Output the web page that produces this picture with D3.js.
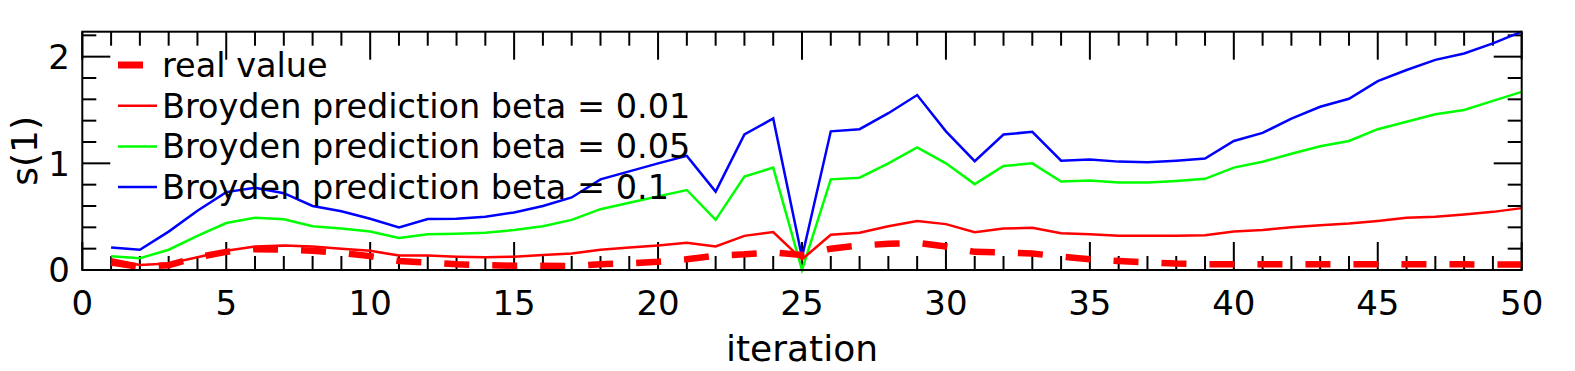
<!DOCTYPE html>
<html>
<head>
<meta charset="utf-8">
<script src="https://cdn.jsdelivr.net/npm/d3@7"></script>
<style>
	body { margin: 0; background: #fff; }
	svg { display: block; font-family: "DejaVu Sans", sans-serif; }
</style>
</head>
<body>
<svg id="plot" width="1575" height="371"></svg>
<script>

// iteration numbers on the x axis
const iterations = d3.range(1, 51);

const real_value = [0.07, 0.03, 0.045, 0.12, 0.17, 0.195, 0.19, 0.18, 0.16, 0.13,
	0.085, 0.07, 0.053, 0.045, 0.04, 0.04, 0.038, 0.055, 0.063, 0.078,
	0.10, 0.135, 0.147, 0.165, 0.14, 0.20, 0.23, 0.245, 0.255, 0.22,
	0.17, 0.165, 0.155, 0.125, 0.10, 0.085, 0.072, 0.06, 0.055, 0.055,
	0.055, 0.055, 0.055, 0.055, 0.055, 0.055, 0.055, 0.053, 0.052, 0.052];

const beta_001 = [0.10, 0.047, 0.06, 0.12, 0.18, 0.22, 0.23, 0.22, 0.20, 0.18,
	0.135, 0.135, 0.125, 0.12, 0.125, 0.14, 0.155, 0.19, 0.21, 0.23,
	0.255, 0.22, 0.32, 0.355, 0.10, 0.33, 0.35, 0.41, 0.46, 0.43,
	0.355, 0.39, 0.395, 0.345, 0.335, 0.32, 0.32, 0.32, 0.325, 0.36,
	0.375, 0.40, 0.42, 0.435, 0.46, 0.49, 0.50, 0.52, 0.545, 0.58];

const beta_005 = [0.13, 0.11, 0.19, 0.32, 0.44, 0.49, 0.475, 0.41, 0.39, 0.36,
	0.30, 0.335, 0.34, 0.35, 0.375, 0.41, 0.47, 0.57, 0.63, 0.69,
	0.75, 0.47, 0.875, 0.96, 0.0, 0.85, 0.865, 1.0, 1.15, 1.0,
	0.805, 0.975, 1.0, 0.83, 0.84, 0.82, 0.82, 0.835, 0.855, 0.96,
	1.015, 1.09, 1.16, 1.21, 1.32, 1.39, 1.46, 1.50, 1.585, 1.67];

const beta_01 = [0.21, 0.19, 0.36, 0.555, 0.73, 0.77, 0.72, 0.60, 0.55, 0.48,
	0.40, 0.477, 0.48, 0.50, 0.54, 0.60, 0.68, 0.85, 0.925, 1.00,
	1.07, 0.735, 1.27, 1.42, 0.12, 1.30, 1.32, 1.47, 1.64, 1.30,
	1.02, 1.27, 1.295, 1.025, 1.035, 1.016, 1.01, 1.025, 1.045, 1.21,
	1.285, 1.42, 1.53, 1.605, 1.77, 1.875, 1.97, 2.03, 2.125, 2.234];

const x_ticks = [0, 5, 10, 15, 20, 25, 30, 35, 40, 45, 50];
const y_ticks = [0, 1, 2];

const series_names = ["real value", "Broyden prediction beta = 0.01",
	"Broyden prediction beta = 0.05", "Broyden prediction beta = 0.1"];
const series_colors = ["#ff0000", "#ff0000", "#00ff00", "#0000ff"];


function drawPlot(svg_element_id) {
	const svg = d3.select('#' + svg_element_id);
	const width = +svg.attr("width");
	const height = +svg.attr("height");
	const margin = {top: 31.7, right: 53.3, bottom: 101, left: 82.3};

	const x = d3.scaleLinear()
		.domain([0, 50])
		.range([margin.left, width - margin.right]);

	const all_values = [].concat(real_value, beta_001, beta_005, beta_01);
	const y = d3.scaleLinear()
		.domain([0, d3.max(all_values)])
		.range([height - margin.bottom, margin.top]);

	const tick_font = 34;
	const major_len = 28, minor_len = 14;

	// ticks point inwards on all four sides
	const x_minor = d3.range(0, 51, 1);
	const y_minor = d3.range(0, 2.21, 0.2).map(d => +d.toFixed(1));

	const ticks_g = svg.append("g").attr("stroke", "black").attr("stroke-width", 2);

	const x_len = d => (d % 5 === 0 ? major_len : minor_len);
	const y_len = d => (Math.abs(d - Math.round(d)) < 1e-6 ? major_len : minor_len);

	ticks_g.selectAll("line.xb").data(x_minor).enter().append("line")
		.attr("x1", d => x(d)).attr("x2", d => x(d))
		.attr("y1", y(0)).attr("y2", d => y(0) - x_len(d));
	ticks_g.selectAll("line.xt").data(x_minor).enter().append("line")
		.attr("x1", d => x(d)).attr("x2", d => x(d))
		.attr("y1", margin.top).attr("y2", d => margin.top + x_len(d));
	ticks_g.selectAll("line.yl").data(y_minor).enter().append("line")
		.attr("y1", d => y(d)).attr("y2", d => y(d))
		.attr("x1", x(0)).attr("x2", d => x(0) + y_len(d));
	ticks_g.selectAll("line.yr").data(y_minor).enter().append("line")
		.attr("y1", d => y(d)).attr("y2", d => y(d))
		.attr("x1", x(50)).attr("x2", d => x(50) - y_len(d));

	// Tick labels
	svg.append("g").selectAll("text").data(x_ticks).enter().append("text")
		.attr("x", d => x(d))
		.attr("y", 315)
		.attr("text-anchor", "middle")
		.attr("font-size", tick_font)
		.text(d => d);

	svg.append("g").selectAll("text").data(y_ticks).enter().append("text")
		.attr("x", 70)
		.attr("y", d => y(d))
		.attr("dy", "0.36em")
		.attr("text-anchor", "end")
		.attr("font-size", tick_font)
		.text(d => d);

	// Axis titles
	svg.append("text")
		.attr("x", (x(0) + x(50)) / 2)
		.attr("y", 361)
		.attr("text-anchor", "middle")
		.attr("font-size", 36)
		.text("iteration");

	svg.append("text")
		.attr("transform", "translate(37," + ((y(0) + margin.top) / 2) + ") rotate(-90)")
		.attr("text-anchor", "middle")
		.attr("font-size", 36)
		.text("s(1)");

	// Lines
	const line = d3.line()
		.x((d, i) => x(iterations[i]))
		.y(d => y(d));

	const lines_g = svg.append("g").attr("fill", "none").attr("stroke-linejoin", "miter");

	lines_g.append("path")
		.attr("d", line(beta_01))
		.attr("stroke", series_colors[3])
		.attr("stroke-width", 2.5);

	lines_g.append("path")
		.attr("d", line(beta_005))
		.attr("stroke", series_colors[2])
		.attr("stroke-width", 2.5);

	lines_g.append("path")
		.attr("d", line(beta_001))
		.attr("stroke", series_colors[1])
		.attr("stroke-width", 2.5);

	lines_g.append("path")
		.attr("d", line(real_value))
		.attr("stroke", series_colors[0])
		.attr("stroke-width", 6.5)
		.attr("stroke-dasharray", "25,23");

	// Frame
	svg.append("rect")
		.attr("x", x(0)).attr("y", margin.top)
		.attr("width", x(50) - x(0))
		.attr("height", y(0) - margin.top)
		.attr("fill", "none")
		.attr("stroke", "black")
		.attr("stroke-width", 2);

	// Legend
	const legend = svg.append("g").attr("transform", "translate(118, 65)");
	const rows = legend.selectAll("g").data(series_names).enter().append("g")
		.attr("transform", (d, i) => "translate(0," + (i * 40.7) + ")");

	rows.append("line")
		.attr("x1", 0)
		.attr("x2", (d, i) => (i === 0 ? 25 : 39))
		.attr("stroke", (d, i) => series_colors[i])
		.attr("stroke-width", (d, i) => (i === 0 ? 7 : 2.5));

	rows.append("text")
		.attr("x", 44)
		.attr("dy", "0.36em")
		.attr("font-size", 33.5)
		.text(d => d);
}

function whenDocumentLoaded(action) {
	if (document.readyState === "loading") {
		document.addEventListener("DOMContentLoaded", action);
	} else {
		action();
	}
}

whenDocumentLoaded(() => {
	drawPlot('plot');
});
</script>
</body>
</html>
